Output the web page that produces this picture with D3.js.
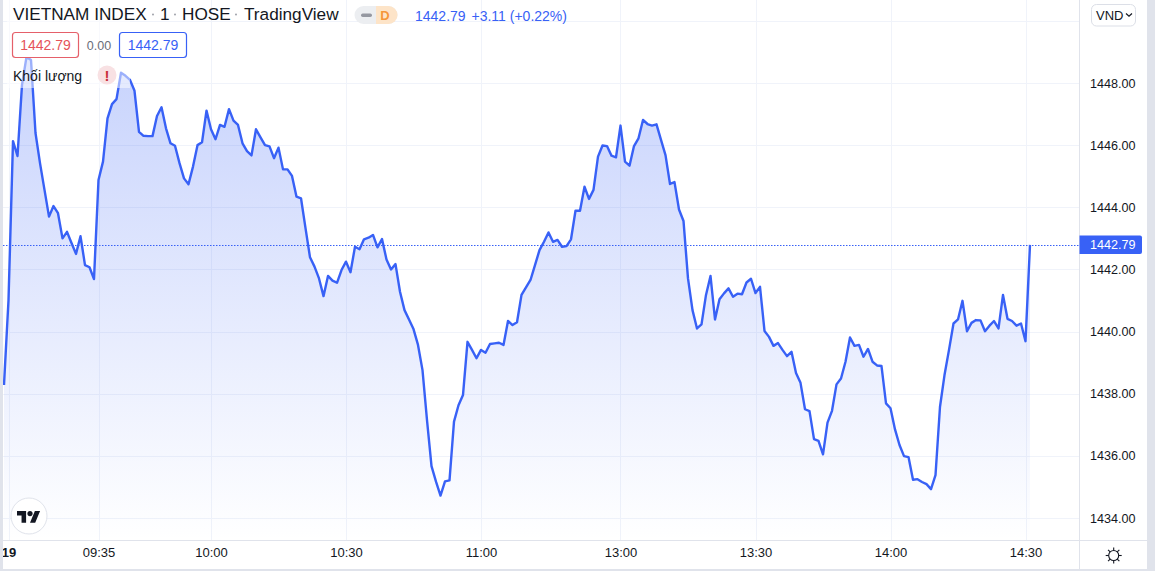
<!DOCTYPE html>
<html>
<head>
<meta charset="utf-8">
<script src="https://cdn.jsdelivr.net/npm/d3@7"></script>
<style>
  html, body { margin: 0; padding: 0; background: #fff; overflow: hidden; }
  svg { display: block; font-family: "Liberation Sans", Arial, sans-serif; }
  .axis text { fill: #131722; font-size: 13px; font-family: "Liberation Sans", Arial, sans-serif; }
  .axis path, .axis line { display: none; }
</style>
</head>
<body>
<svg id="chart" width="1155" height="571"></svg>
<script>
// one value per minute bar
const closes = [
  1438.28, 1441.01, 1446.13, 1445.65, 1447.94, 1448.84, 1448.74, 1446.39, 1445.42, 1444.56,
  1443.70, 1444.04, 1443.81, 1443.00, 1443.21, 1442.85, 1442.50, 1443.07, 1442.14, 1442.07,
  1441.69, 1444.88, 1445.47, 1446.86, 1447.32, 1447.48, 1448.33, 1448.23, 1448.10, 1447.75,
  1446.43, 1446.30, 1446.29, 1446.29, 1446.94, 1447.22, 1446.54, 1446.06, 1445.98, 1445.42,
  1444.93, 1444.74, 1445.31, 1446.00, 1446.09, 1447.11, 1446.51, 1446.19, 1446.65, 1446.59,
  1447.16, 1446.79, 1446.65, 1446.06, 1445.81, 1445.67, 1446.51, 1446.25, 1446.00, 1445.96,
  1445.58, 1445.92, 1445.22, 1445.22, 1445.01, 1444.34, 1444.29, 1443.33, 1442.39, 1442.09,
  1441.71, 1441.14, 1441.79, 1441.64, 1441.57, 1441.98, 1442.25, 1441.91, 1442.73, 1442.65,
  1442.97, 1443.02, 1443.11, 1442.71, 1442.98, 1442.32, 1442.00, 1442.17, 1441.28, 1440.69,
  1440.39, 1440.08, 1439.57, 1438.76, 1437.15, 1435.67, 1435.17, 1434.72, 1435.18, 1435.21,
  1437.10, 1437.63, 1437.96, 1439.67, 1439.41, 1439.14, 1439.41, 1439.32, 1439.60, 1439.62,
  1439.64, 1439.57, 1440.34, 1440.21, 1440.30, 1441.18, 1441.42, 1441.66, 1442.14, 1442.62,
  1442.89, 1443.19, 1442.89, 1442.95, 1442.73, 1442.75, 1442.97, 1443.89, 1443.89, 1444.66,
  1444.27, 1444.56, 1445.63, 1445.99, 1445.97, 1445.66, 1445.61, 1446.63, 1445.47, 1445.34,
  1445.97, 1446.22, 1446.81, 1446.68, 1446.63, 1446.67, 1446.17, 1445.68, 1444.75, 1444.81,
  1443.93, 1443.56, 1441.71, 1440.69, 1440.10, 1440.23, 1441.18, 1441.79, 1440.39, 1441.04,
  1441.23, 1441.39, 1441.12, 1441.22, 1441.20, 1441.58, 1441.70, 1441.24, 1441.44, 1440.02,
  1439.83, 1439.54, 1439.63, 1439.41, 1439.21, 1439.35, 1438.67, 1438.35, 1437.50, 1437.44,
  1436.54, 1436.48, 1436.05, 1437.07, 1437.45, 1438.30, 1438.49, 1439.03, 1439.81, 1439.54,
  1439.57, 1439.19, 1439.44, 1439.03, 1438.91, 1438.89, 1437.69, 1437.53, 1436.85, 1436.35,
  1435.99, 1435.96, 1435.23, 1435.25, 1435.16, 1435.09, 1434.93, 1435.38, 1437.58, 1438.60,
  1439.41, 1440.26, 1440.39, 1440.99, 1440.01, 1440.28, 1440.37, 1440.36, 1440.01, 1440.19,
  1440.34, 1440.10, 1441.18, 1440.41, 1440.34, 1440.19, 1440.26, 1439.69, 1442.79
];
const timeLabels = ["19", "09:35", "10:00", "10:30", "11:00", "13:00", "13:30", "14:00", "14:30"];
const timeBars = [1, 21, 46, 76, 106, 137, 167, 197, 227];
const priceTicks = [1434, 1436, 1438, 1440, 1442, 1444, 1446, 1448];
const priceGrid = [1434, 1436, 1438, 1440, 1442, 1444, 1446, 1448, 1450];
const lastPrice = 1442.79;
const titleParts = ["VIETNAM INDEX", "1", "HOSE", "TradingView"];

const svg = d3.select("#chart");
const plot = {left: 3, right: 1079, bottom: 540};
const frame = "#e0e3eb";
const blue = "#3861f6";
const ink = "#131722";

const x = d3.scaleLinear().domain([0, closes.length - 1]).range([4, 1030]);
const y = d3.scaleLinear().domain([1434, 1448]).range([518, 83]);

const defs = svg.append("defs");
defs.append("clipPath").attr("id", "plotClip")
  .append("rect")
  .attr("x", plot.left).attr("y", 0)
  .attr("width", plot.right - plot.left).attr("height", plot.bottom);

const grad = defs.append("linearGradient").attr("id", "areaFill")
  .attr("gradientUnits", "userSpaceOnUse")
  .attr("x1", 0).attr("x2", 0).attr("y1", y(d3.max(closes))).attr("y2", plot.bottom);
grad.append("stop").attr("offset", 0).attr("stop-color", blue).attr("stop-opacity", 0.28);
grad.append("stop").attr("offset", 1).attr("stop-color", blue).attr("stop-opacity", 0.0);

// Grid
svg.append("g").selectAll("line").data(priceGrid).enter().append("line")
  .attr("x1", plot.left).attr("x2", plot.right)
  .attr("y1", d => Math.round(y(d)) + 0.5).attr("y2", d => Math.round(y(d)) + 0.5)
  .attr("stroke", "#f0f3fa");
svg.append("g").selectAll("line").data(timeBars).enter().append("line")
  .attr("x1", d => Math.round(x(d)) + 0.5).attr("x2", d => Math.round(x(d)) + 0.5)
  .attr("y1", 0).attr("y2", plot.bottom)
  .attr("stroke", "#f0f3fa");

// Area and line
const chart = svg.append("g").attr("clip-path", "url(#plotClip)");
chart.append("path").datum(closes)
  .attr("fill", "url(#areaFill)")
  .attr("d", d3.area().x((d, i) => x(i)).y0(plot.bottom).y1(d => y(d)));
chart.append("path").datum(closes)
  .attr("fill", "none")
  .attr("stroke", blue)
  .attr("stroke-width", 2.4)
  .attr("stroke-linejoin", "round")
  .attr("d", d3.line().x((d, i) => x(i)).y(d => y(d)));

// Last price line
svg.append("line")
  .attr("x1", plot.left).attr("x2", plot.right)
  .attr("y1", Math.round(y(lastPrice)) + 0.5).attr("y2", Math.round(y(lastPrice)) + 0.5)
  .attr("stroke", blue).attr("stroke-dasharray", "1.5 1.5");

// Legend backdrop, the chart shows through it
svg.append("rect")
  .attr("x", 7).attr("y", 0).attr("width", 123).attr("height", 88)
  .attr("fill", "#fff").attr("fill-opacity", 0.5);

// Axes
const priceAxis = svg.append("g").attr("class", "axis")
  .attr("transform", `translate(${plot.right},0)`)
  .call(d3.axisRight(y).tickValues(priceTicks).tickFormat(d3.format(".2f")).tickSize(0).tickPadding(11));
priceAxis.selectAll("text").style("font-size", "12.6px");
const timeAxis = svg.append("g").attr("class", "axis")
  .attr("transform", `translate(0,${plot.bottom})`)
  .call(d3.axisBottom(x).tickValues(timeBars).tickFormat((d, i) => timeLabels[i]).tickSize(0).tickPadding(8));
timeAxis.selectAll("text").filter((d, i) => i === 0).style("font-weight", "bold");

svg.append("line").attr("x1", plot.right + 0.5).attr("x2", plot.right + 0.5)
  .attr("y1", 0).attr("y2", 569).attr("stroke", frame);
svg.append("line").attr("x1", plot.left).attr("x2", 1147)
  .attr("y1", plot.bottom + 0.5).attr("y2", plot.bottom + 0.5).attr("stroke", frame);

// Frame strips round the widget
svg.append("rect").attr("x", 0).attr("y", 0).attr("width", 3).attr("height", 571).attr("fill", frame);
svg.append("rect").attr("x", 1147).attr("y", 0).attr("width", 8).attr("height", 571).attr("fill", frame);
svg.append("rect").attr("x", 0).attr("y", 569).attr("width", 1155).attr("height", 2).attr("fill", frame);

// Last price label
svg.append("path")
  .attr("d", "M1079.5 235.5H1140a2 2 0 0 1 2 2V252a2 2 0 0 1 -2 2H1079.5Z")
  .attr("fill", blue);
svg.append("text").attr("x", 1090).attr("y", y(lastPrice) + 4.5)
  .attr("fill", "#fff").attr("font-size", 12.6).text(d3.format(".2f")(lastPrice));

// Header, words and their dots are spaced by hand
const titleX = [13, 160, 182, 244];
svg.append("g").selectAll("text").data(titleParts).enter().append("text")
  .attr("x", (d, i) => titleX[i]).attr("y", 20)
  .attr("fill", ink).attr("font-size", 17.2).text(d => d);
svg.append("g").selectAll("circle").data([153, 175, 236]).enter().append("circle")
  .attr("cx", d => d).attr("cy", 14.5).attr("r", 0.9).attr("fill", "#9598a1");

svg.append("rect").attr("x", 354.5).attr("y", 6).attr("width", 43).attr("height", 18).attr("rx", 9).attr("fill", "#eceef1");
svg.append("path").attr("d", "M376 6H388.5a9 9 0 0 1 0 18H376Z").attr("fill", "#fde4c8");
svg.append("rect").attr("x", 361).attr("y", 13.5).attr("width", 11).attr("height", 3.5).attr("rx", 1.7).attr("fill", "#9598a1");
svg.append("text").attr("x", 385).attr("y", 20).attr("text-anchor", "middle")
  .attr("fill", "#f5963a").attr("font-size", 13).attr("font-weight", "bold").text("D");

svg.append("text").attr("x", 415).attr("y", 21).attr("fill", blue).attr("font-size", 14).text("1442.79");
svg.append("text").attr("x", 471.5).attr("y", 21).attr("fill", blue).attr("font-size", 14).text("+3.11 (+0.22%)");

// Price boxes
svg.append("rect").attr("x", 12.5).attr("y", 32.5).attr("width", 66).attr("height", 25).attr("rx", 3)
  .attr("fill", "#fff").attr("stroke", "#e5606a").attr("stroke-width", 1.2);
svg.append("text").attr("x", 45.5).attr("y", 50).attr("text-anchor", "middle")
  .attr("fill", "#e5535a").attr("font-size", 14).text("1442.79");
svg.append("text").attr("x", 99).attr("y", 50).attr("text-anchor", "middle")
  .attr("fill", "#6a6d78").attr("font-size", 12.5).text("0.00");
svg.append("rect").attr("x", 119.5).attr("y", 32.5).attr("width", 67).attr("height", 25).attr("rx", 3)
  .attr("fill", "#fff").attr("stroke", blue).attr("stroke-width", 1.2);
svg.append("text").attr("x", 153).attr("y", 50).attr("text-anchor", "middle")
  .attr("fill", blue).attr("font-size", 14).text("1442.79");

// Volume legend
svg.append("text").attr("x", 13).attr("y", 81).attr("fill", ink).attr("font-size", 14).text("Khối lượng");
svg.append("circle").attr("cx", 107).attr("cy", 75).attr("r", 9.5).attr("fill", "#f8e1e3");
svg.append("text").attr("x", 107).attr("y", 80.5).attr("text-anchor", "middle")
  .attr("fill", "#c9323c").attr("font-size", 15).attr("font-weight", "bold").text("!");

// Currency button
svg.append("rect").attr("x", 1091.5).attr("y", 4.5).attr("width", 44).attr("height", 21.5).attr("rx", 5)
  .attr("fill", "#fff").attr("stroke", "#dcdfe7");
svg.append("text").attr("x", 1096).attr("y", 20).attr("fill", ink).attr("font-size", 13).text("VND");
svg.append("path").attr("d", "M1126 13.5l3 2.8 3-2.8").attr("fill", "none").attr("stroke", ink).attr("stroke-width", 1.2);

// TradingView logo
svg.append("circle").attr("cx", 29).attr("cy", 516).attr("r", 18)
  .attr("fill", "#fff").attr("stroke", "#e0e3eb");
const logo = svg.append("g").attr("transform", "translate(17,508.4) scale(0.65)").attr("fill", ink);
logo.append("path").attr("d", "M14 22H7V11H0V4h14v18zM28 22h-8l7.5-18h8L28 22z");
logo.append("circle").attr("cx", 20).attr("cy", 8).attr("r", 4);

// Theme toggle
const sun = svg.append("g").attr("transform", "translate(1113.7,555.5)")
  .attr("fill", "none").attr("stroke", ink).attr("stroke-width", 1.1);
sun.append("circle").attr("r", 5);
sun.selectAll("line").data(d3.range(8)).enter().append("line")
  .attr("y1", -5).attr("y2", -8)
  .attr("transform", d => `rotate(${d * 45})`);
</script>
</body>
</html>
